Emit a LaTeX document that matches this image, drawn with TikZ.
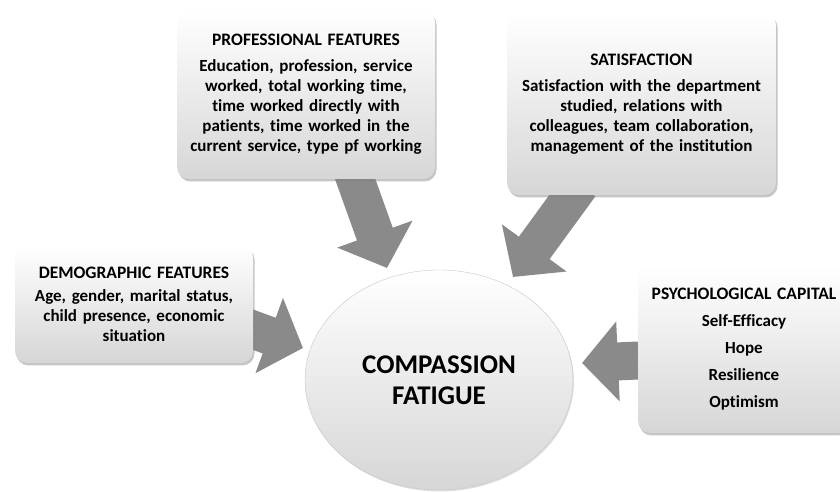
\documentclass[tikz,border=0pt]{standalone}
\usepackage{fontspec}
\setmainfont{Carlito}[Ligatures=NoCommon]
\usetikzlibrary{positioning}
\usetikzlibrary{shadows}
\usetikzlibrary{shapes.geometric}
\usetikzlibrary{arrows.meta,calc}
\usetikzlibrary{backgrounds}

\definecolor{arrowgray}{RGB}{138,138,138}
\newcommand\boxhead[1]{{\fontsize{17.5}{20}\selectfont #1}}

\begin{document}
\begin{tikzpicture}[x=1pt, y=1pt,
    factorbox/.style={rounded corners=12pt, inner sep=4pt, align=center,
        top color=white, middle color=white, bottom color=black!16,
        drop shadow={opacity=0.45, shadow xshift=1.5pt, shadow yshift=-2.5pt},
        font=\bfseries\fontsize{17}{20}\selectfont},
    corecircle/.style={ellipse, draw=black!22, align=center,
        top color=white, bottom color=black!16,
        drop shadow={opacity=0.25, shadow xshift=1pt, shadow yshift=-1.5pt},
        font=\bfseries\fontsize{27}{30.5}\selectfont},
    bigarrow/.style={line width=38pt, draw=arrowgray,
        -{Triangle[width=78pt, length=36pt]}}]

   \useasboundingbox (0,0) rectangle (840,492);

   % the factor boxes
   \node[factorbox, text width=250pt, minimum height=169pt] (prof) at (306,397.5)
     {\boxhead{PROFESSIONAL FEATURES}\\[6pt]
      Education, profession, service\\ worked, total working time,\\
      time worked directly with\\ patients, time worked in the\\
      current service, type pf working};

   \node[factorbox, text width=261pt, minimum height=182pt] (satis) at (641.5,388)
     {\boxhead{SATISFACTION}\\[6pt]
      Satisfaction with the department\\ studied, relations with\\
      colleagues, team collaboration,\\ management of the institution};

   \node[factorbox, text width=230pt, minimum height=118pt] (demo) at (134,188)
     {\boxhead{DEMOGRAPHIC FEATURES}\\[3pt]
      Age, gender, marital status,\\ child presence, economic\\ situation};

   \node[factorbox, text width=204pt, minimum height=168pt] (psych) at (744,143)
     {\boxhead{PSYCHOLOGICAL CAPITAL}\\[7pt]
      Self-Efficacy\\[7pt] Hope\\[7pt] Resilience\\[7pt] Optimism};

   % the centre
   \node[corecircle, minimum width=268pt, minimum height=220pt] (fatigue) at (439,112)
     {COMPASSION\\FATIGUE};

   % block arrows pointing at the centre
   \begin{pgfonlayer}{background}
     \draw[bigarrow] ($(prof.south)+(46,9)$) -- ($(fatigue.center)+(-52,112)$);
     \draw[bigarrow] ($(satis.south)+(-61.5,10)$) -- ($(fatigue.center)+(74,103)$);
     \draw[bigarrow] ($(demo.east)+(-13,-21)$) -- ($(fatigue.center)+(-136,32)$);
     \draw[bigarrow] ($(psych.west)+(12,-11)$) -- ($(fatigue.center)+(143,17)$);
   \end{pgfonlayer}

\end{tikzpicture}
\end{document}
